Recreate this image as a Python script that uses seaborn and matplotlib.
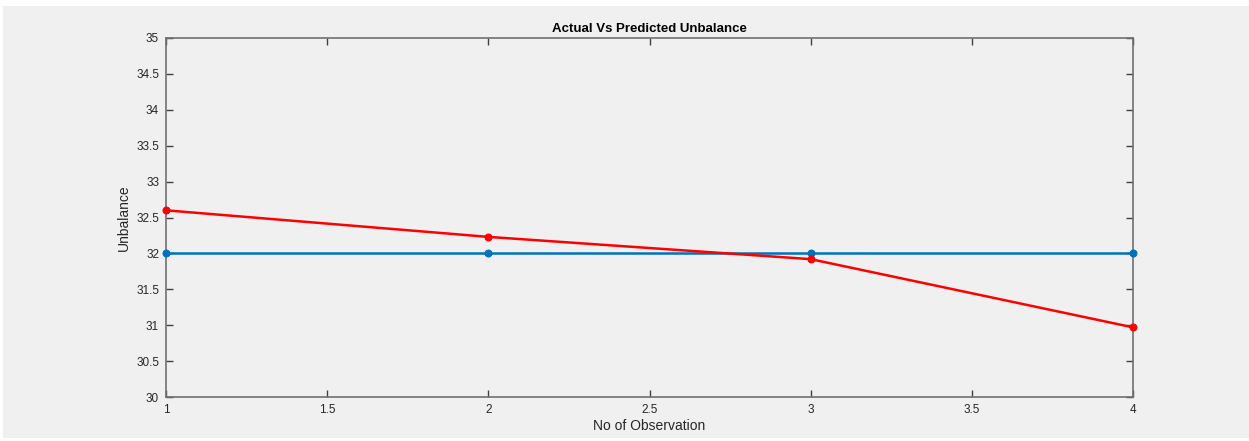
import matplotlib
matplotlib.use("Agg")
import matplotlib.pyplot as plt
import seaborn as sns
import pandas as pd
from matplotlib.patches import Rectangle

observations = [1, 2, 3, 4]
actual = [32.0, 32.0, 32.0, 32.0]
predicted = [32.6, 32.23, 31.92, 30.97]
y_ticks = [30, 30.5, 31, 31.5, 32, 32.5, 33, 33.5, 34, 34.5, 35]
y_tick_labels = ["30", "30.5", "31", "31.5", "32", "32.5", "33", "33.5", "34", "34.5", "35"]
x_ticks = [1, 1.5, 2, 2.5, 3, 3.5, 4]
x_tick_labels = ["1", "1.5", "2", "2.5", "3", "3.5", "4"]

sns.set_style("ticks")
plt.rcParams['font.family'] = ['Liberation Sans', 'DejaVu Sans']

df = pd.DataFrame({"obs": observations, "actual": actual, "predicted": predicted})

fig = plt.figure(figsize=(12.49, 4.41), dpi=100)
fig.patch.set_facecolor("white")
gray = "#f0f0f0"
fig.patches.append(Rectangle((3/1249, 3/441), 1 - 3/1249, 1 - 9/441,
                             transform=fig.transFigure, facecolor=gray,
                             edgecolor="none", zorder=-10))
ax = fig.add_axes([166/1249, 44/441, 967/1249, 359/441])
ax.set_facecolor(gray)

sns.lineplot(data=df, x="obs", y="actual", ax=ax, color="#0072BD", linewidth=1.8,
             marker="o", markersize=5, markeredgecolor="#0072BD", clip_on=False, zorder=3)
sns.lineplot(data=df, x="obs", y="predicted", ax=ax, color="#ff0000", linewidth=1.8,
             marker="o", markersize=5, markeredgecolor="#ff0000", clip_on=False, zorder=3)

ax.set_xlim(1, 4)
ax.set_ylim(30, 35)
ax.set_xticks(x_ticks)
ax.set_xticklabels(x_tick_labels)
ax.set_yticks(y_ticks)
ax.set_yticklabels(y_tick_labels)

axis_color = "#262626"
for s in ax.spines.values():
    s.set_visible(True)
    s.set_color("#707070")
    s.set_linewidth(1.2)
    s.set_zorder(2)
ax.tick_params(direction="in", length=5, width=1, colors="#404040",
               labelcolor=axis_color, labelsize=8.5, top=True, right=True, pad=5)

ax.set_xlabel("No of Observation", fontsize=10, color=axis_color, labelpad=2)
ax.set_ylabel("Unbalance", fontsize=10, color=axis_color, labelpad=4)
ax.set_title("Actual Vs Predicted Unbalance", fontsize=9.5, fontweight="bold",
             color="black", pad=4)

fig.savefig("out.png", dpi=100, facecolor=fig.get_facecolor())
